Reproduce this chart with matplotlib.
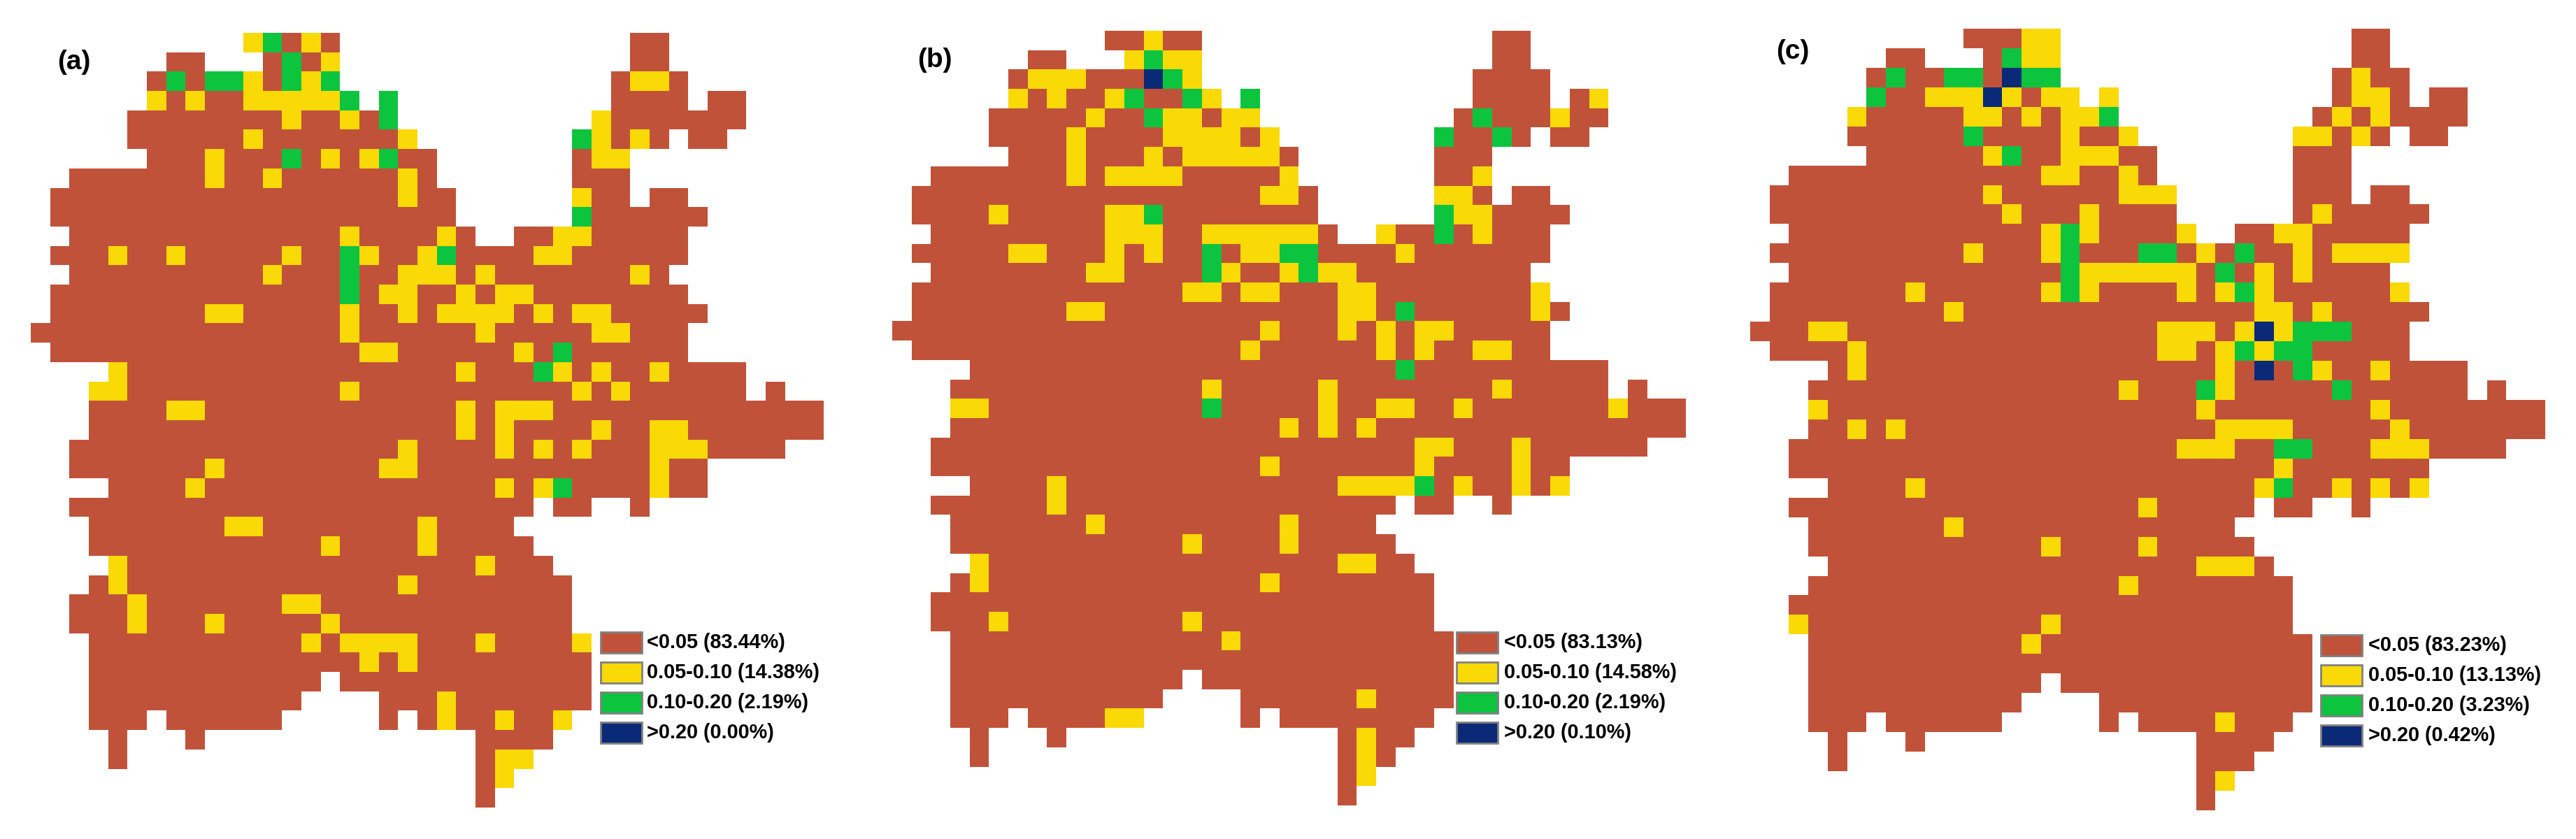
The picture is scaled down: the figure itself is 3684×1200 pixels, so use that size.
import matplotlib
matplotlib.use('Agg')
import matplotlib.pyplot as plt
from matplotlib.colors import ListedColormap
from matplotlib.patches import Rectangle
import numpy as np

plt.rcParams['font.family'] = ['Liberation Sans', 'DejaVu Sans']

# rows of each map as runs: count + class, '.' = outside the region
# r <0.05, y 0.05-0.10, g 0.10-0.20, b >0.20
rows_a = [
    "11. 1y 1g 1r 1y 1r 15. 2r",
    "7. 2r 3. 1r 1g 1r 1y 15. 2r",
    "6. 1r 1g 1r 2g 1y 1r 1g 1y 1g 14. 1r 2y 1r",
    "6. 1y 1r 1y 2r 5y 1g 1. 1g 11. 4r 1. 2r",
    "5. 8r 1y 2r 1y 1r 1g 10. 1y 7r",
    "5. 6r 1y 7r 1y 8. 1g 1y 1r 1y 1r 1. 2r",
    "6. 3r 1y 3r 1g 1r 1y 1r 1y 1g 2r 7. 1r 2y",
    "2. 7r 1y 2r 1y 6r 1y 1r 7. 3r",
    "1. 18r 1y 2r 6. 1y 2r 1. 2r",
    "1. 21r 6. 1g 6r",
    "2. 14r 1y 4r 1y 1r 2. 2r 2y 5r",
    "1. 3r 1y 2r 1y 5r 1y 2r 1g 1y 2r 1y 1g 4r 2y 6r",
    "2. 10r 1y 3r 1g 2r 3y 1r 1y 7r 1y 1r",
    "1. 15r 1g 1r 2y 2r 1y 1r 2y 8r",
    "1. 8r 2y 5r 1y 2r 1y 1r 4y 1r 1y 1r 2y 5r",
    "16r 1y 6r 1y 5r 2y 3r",
    "1. 16r 2y 6r 1y 1r 1g 6r",
    "4. 1y 17r 1y 3r 1g 1y 1r 1y 2r 1y 4r",
    "3. 2y 11r 1y 11r 1y 1r 1y 6r 1. 1r",
    "3. 4r 2y 13r 1y 1r 3y 14r",
    "3. 19r 1y 1r 1y 4r 1y 2r 2y 7r",
    "2. 17r 1y 4r 1y 1r 1y 1r 1y 3r 3y 4r",
    "2. 7r 1y 8r 2y 12r 1y 2r",
    "4. 4r 1y 15r 1y 1r 1y 1g 4r 1y 2r",
    "2. 24r 1. 2r 2. 1r",
    "3. 7r 2y 8r 1y 4r",
    "3. 12r 1y 4r 1y 5r",
    "4. 1y 18r 1y 3r",
    "3. 1r 1y 14r 1y 8r",
    "2. 3r 1y 7r 2y 13r",
    "2. 3r 1y 3r 1y 5r 1y 12r",
    "3. 11r 1y 1r 4y 3r 1y 4r 1y",
    "3. 14r 1y 1r 1y 9r",
    "3. 12r 1. 13r",
    "3. 11r 4. 3r 1y 7r",
    "3. 3r 1. 6r 5. 1r 1. 1r 1y 2r 1y 2r 1y",
    "4. 1r 3. 1r 14. 4r",
    "4. 1r 18. 1r 2y",
    "23. 1r 1y",
    "23. 1r",
]

rows_b = [
    "11. 2r 1y 2r 15. 2r",
    "7. 2r 3. 1y 1g 2y 15. 2r",
    "6. 1r 3y 3r 1b 1g 1y 14. 4r",
    "6. 1y 1r 1y 2r 1y 1g 2r 1g 1y 1. 1g 11. 4r 1. 1r 1y",
    "5. 5r 1y 2r 1g 2y 1r 2y 10. 1r 1g 3r 1y 2r",
    "5. 4r 1y 4r 4y 1r 1y 8. 1g 2r 1g 1r 1. 2r",
    "6. 3r 1y 3r 1y 1r 5y 1r 7. 3r",
    "2. 7r 1y 1r 4y 5r 1y 7. 2r 1y",
    "1. 18r 2y 1r 6. 2y 1r 1. 2r",
    "1. 4r 1y 5r 2y 1g 8r 6. 1g 2y 4r",
    "2. 9r 3y 2r 6y 1r 2. 1y 2r 1g 1r 1y 3r",
    "1. 5r 2y 3r 1y 1r 1y 2r 1g 1r 2y 2g 4r 1y 7r",
    "2. 8r 2y 4r 1g 1y 2r 1y 1g 2y 9r",
    "1. 14r 2y 1r 2y 3r 2y 8r 1y",
    "1. 8r 2y 12r 2y 1r 1g 6r 1y 1r",
    "19r 1y 3r 1y 1r 1y 1r 2y 5r",
    "1. 17r 1y 6r 1y 1r 1y 2r 2y 2r",
    "4. 22r 1g 10r",
    "3. 13r 1y 5r 1y 8r 1y 5r 1. 1r",
    "3. 2y 11r 1g 5r 1y 2r 2y 2r 1y 7r 1y 3r",
    "3. 17r 1y 1r 1y 1r 1y 16r",
    "2. 25r 2y 3r 1y 6r",
    "2. 17r 1y 7r 1y 4r 1y 2r",
    "4. 4r 1y 14r 4y 1g 1r 1y 2r 1y 1r 1y",
    "2. 6r 1y 17r 1. 2r 2. 1r",
    "3. 7r 1y 9r 1y 4r",
    "3. 12r 1y 4r 1y 5r",
    "4. 1y 18r 2y 2r",
    "3. 1r 1y 14r 1y 8r",
    "2. 26r",
    "2. 3r 1y 9r 1y 12r",
    "3. 14r 1y 11r",
    "3. 26r",
    "3. 12r 1. 13r",
    "3. 11r 4. 6r 1y 4r",
    "3. 3r 1. 4r 2y 5. 1r 1. 8r",
    "4. 1r 3. 1r 14. 1r 1y 2r",
    "4. 1r 18. 1r 1y 1r",
    "23. 1r 1y",
    "23. 1r",
]

rows_c = [
    "11. 3r 2y 15. 2r",
    "7. 2r 3. 1r 1g 2y 15. 2r",
    "6. 1r 1g 2r 2g 1r 1b 2g 14. 1r 1y 2r",
    "6. 1g 2r 3y 1b 1y 1r 2y 1. 1y 11. 1r 2y 1r 1. 2r",
    "5. 1y 5r 2y 1r 1y 1r 2y 1g 10. 1r 1y 1r 1y 4r",
    "5. 6r 1g 4r 1y 2r 1y 8. 2y 1r 1y 1r 1. 2r",
    "6. 6r 1y 1g 2r 3y 2r 7. 3r",
    "2. 13r 2y 2r 1y 1r 7. 3r",
    "1. 11r 1y 6r 3y 6. 3r 1. 2r",
    "1. 12r 1y 3r 1y 4r 6. 1r 1y 5r",
    "2. 13r 1y 1g 1y 4r 1y 2. 2r 2y 5r",
    "1. 10r 1y 3r 1y 1g 3r 2g 1r 1y 1r 1g 2r 1y 1r 4y",
    "2. 14r 1g 6y 1r 1g 1r 1y 1r 1y 4r",
    "1. 7r 1y 6r 1y 1g 1y 4r 1y 1r 1y 1g 1y 6r 1y",
    "1. 9r 1y 15r 2y 1r 1y 5r",
    "3r 2y 16r 3y 1r 1y 1b 1y 3g 3r",
    "1. 4r 1y 15r 2y 1r 1y 1g 1y 2g 5r",
    "4. 1r 1y 18r 1y 1r 1b 1r 1g 1y 2r 1y 4r",
    "3. 16r 1y 3r 1g 1y 5r 1g 6r 1. 1r",
    "3. 1y 19r 1y 8r 1y 8r",
    "3. 2r 1y 1r 1y 16r 4y 5r 1y 7r",
    "2. 20r 3y 2r 2g 3r 3y 4r",
    "2. 25r 1y 7r",
    "4. 4r 1y 17r 1y 1g 2r 1y 1r 1y 1r 1y",
    "2. 18r 1y 5r 1. 2r 2. 1r",
    "3. 7r 1y 14r",
    "3. 12r 1y 4r 1y 5r",
    "4. 19r 3y 1r",
    "3. 16r 1y 8r",
    "2. 26r",
    "2. 1y 12r 1y 12r",
    "3. 11r 1y 14r",
    "3. 26r",
    "3. 12r 1. 13r",
    "3. 11r 4. 11r",
    "3. 3r 1. 6r 5. 1r 1. 4r 1y 3r",
    "4. 1r 3. 1r 14. 4r",
    "4. 1r 18. 3r",
    "23. 1r 1y",
    "23. 1r",
]

panel_names = ['(a)', '(b)', '(c)']
class_names = ['<0.05', '0.05-0.10', '0.10-0.20', '>0.20']
shares_a = ['83.44%', '14.38%', '2.19%', '0.00%']
shares_b = ['83.13%', '14.58%', '2.19%', '0.10%']
shares_c = ['83.23%', '13.13%', '3.23%', '0.42%']
colors = ['#C1523A', '#F9D906', '#0DC43F', '#0A2A78']

W, H = 3684, 1200
CODES = {'.': np.nan, 'r': 0, 'y': 1, 'g': 2, 'b': 3}


def expand(rows, ncols=41):
    grid = np.full((len(rows), ncols), np.nan)
    for i, row in enumerate(rows):
        j = 0
        for run in row.split():
            n = int(run[:-1])
            grid[i, j:j + n] = CODES[run[-1]]
            j += n
    return grid


def px_axes(fig, x, y, w, h):
    # axes placed in reference pixels, y measured from the top
    return fig.add_axes([x / W, 1 - (y + h) / H, w / W, h / H])


fig = plt.figure(figsize=(W / 100, H / 100), dpi=100, facecolor='white')

# overlay for legends and panel letters, works in pixels
over = fig.add_axes([0, 0, 1, 1], zorder=5)
over.set_xlim(0, W)
over.set_ylim(H, 0)
over.axis('off')

cmap = ListedColormap(colors)

# map x, y, cell w, cell h / letter x, y / swatch x, y of first, text x
panels = [
    (rows_a, shares_a, (44, 46.7, 27.65, 27.7), (82, 89), (859, 904), 925),
    (rows_b, shares_b, (1275.5, 44, 27.66, 27.7), (1312, 86), (2083, 904), 2151),
    (rows_c, shares_c, (2503, 41.3, 27.72, 27.95), (2540, 74), (3319, 908), 3387),
]

for name, (rows, shares, box, letter, swatch, text_x) in zip(panel_names, panels):
    x0, y0, cw, ch = box
    grid = expand(rows)
    ax = px_axes(fig, x0, y0, cw * 41, ch * 40)
    ax.imshow(np.ma.masked_invalid(grid), cmap=cmap, vmin=-0.5, vmax=3.5,
              interpolation='nearest', aspect='auto')
    ax.axis('off')

    over.text(letter[0], letter[1], name, fontsize=28, fontweight='bold',
              ha='left', va='center')

    for k in range(4):
        sy = swatch[1] + k * 43
        over.add_patch(Rectangle((swatch[0], sy), 59, 30, facecolor=colors[k],
                                 edgecolor='#808080', linewidth=2))
        over.text(text_x, sy + 15, f'{class_names[k]} ({shares[k]})',
                  fontsize=20.8, fontweight='bold', ha='left', va='center')

plt.savefig('out.png', dpi=100)
